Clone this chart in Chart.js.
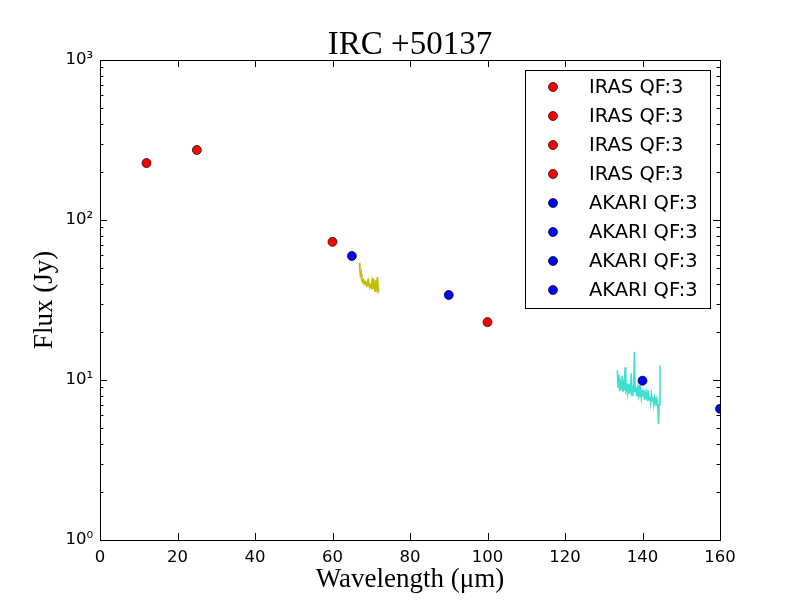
<!DOCTYPE html>
<html>
<head>
<meta charset="utf-8">
<script src="https://cdn.jsdelivr.net/npm/chart.js@4.4.1/dist/chart.umd.min.js"></script>
<style>
  html, body { margin: 0; padding: 0; background: #fff; }
  #wrap { width: 800px; height: 600px; }
</style>
</head>
<body>
<div id="wrap"><canvas id="sed"></canvas></div>
<script>
// photometry points
const irasWave = [12, 25, 60, 100];
const irasFlux = [227, 274, 73, 23];
const akariWave = [65, 90, 140, 160];
const akariFlux = [59.6, 34, 9.9, 6.6];
const irasLabel = 'IRAS QF:3';
const akariLabel = 'AKARI QF:3';

// spectra (yellow ~67-72 um, turquoise ~133-145 um)
const specAWave = [67.0, 67.1, 67.2, 67.3, 67.4, 67.5, 67.6, 67.8, 68.0, 68.2, 68.4, 68.6, 68.8,
  69.0, 69.2, 69.4, 69.6, 69.8, 70.0, 70.2, 70.4, 70.6, 70.8, 71.0, 71.2, 71.4, 71.6, 71.8, 72.0];
const specAFlux = [54, 48, 45, 44, 46, 43, 42, 41, 42, 40, 41, 40, 39,
  41, 39, 40, 38, 39, 38, 41, 37, 43, 38, 36, 42, 37, 44, 36, 37];

const specBWave = [133.5, 133.7, 133.9, 134.1, 134.3, 134.5, 134.7, 134.9, 135.1, 135.3, 135.5, 135.7,
  135.9, 136.1, 136.3, 136.5, 136.7, 136.9, 137.1, 137.3, 137.5, 137.7, 137.9, 138.1, 138.3, 138.5,
  138.7, 138.9, 139.1, 139.3, 139.5, 139.7, 139.9, 140.1, 140.3, 140.5, 140.7, 140.9, 141.1, 141.3,
  141.5, 141.7, 141.9, 142.1, 142.3, 142.5, 142.7, 142.9, 143.1, 143.3, 143.5, 143.7, 143.9, 144.1,
  144.3, 144.5];
const specBFlux = [11.5, 9.0, 10.8, 8.5, 9.6, 8.8, 10.6, 8.4, 9.4, 8.6, 12.0, 8.7,
  9.1, 8.3, 9.5, 8.2, 9.0, 8.6, 11.0, 8.0, 9.2, 8.4, 15.0, 8.5, 9.0, 7.9,
  8.8, 8.1, 9.3, 7.8, 8.6, 7.7, 8.4, 7.9, 8.7, 7.5, 8.2, 7.6, 8.3, 7.4,
  8.6, 7.5, 7.9, 7.2, 8.1, 7.4, 7.8, 7.0, 7.7, 7.2, 7.6, 6.9, 7.3, 5.3,
  7.0, 12.3];

const xTicks = [0, 20, 40, 60, 80, 100, 120, 140, 160];
const yTicks = [1, 10, 100, 1000];
const yTickLabels = ['10\u2070', '10\u00b9', '10\u00b2', '10\u00b3'];

const datasets = [];
irasWave.forEach((w, i) => {
  datasets.push({
    label: irasLabel, data: [{x: w, y: irasFlux[i]}], order: 1,
    pointRadius: 4.5, pointBackgroundColor: '#ff0000', pointBorderColor: '#000', pointBorderWidth: 0.7,
    showLine: false
  });
});
akariWave.forEach((w, i) => {
  datasets.push({
    label: akariLabel, data: [{x: w, y: akariFlux[i]}], order: 1,
    pointRadius: 4.5, pointBackgroundColor: '#0000ff', pointBorderColor: '#000', pointBorderWidth: 0.7,
    showLine: false
  });
});
datasets.push({
  label: 'spec', data: specAWave.map((w, i) => ({x: w, y: specAFlux[i]})), order: 2,
  showLine: true, borderColor: '#bfbf00', borderWidth: 1.8, pointRadius: 0, tension: 0
});
datasets.push({
  label: 'spec', data: specBWave.map((w, i) => ({x: w, y: specBFlux[i]})), order: 2,
  showLine: true, borderColor: '#40e0d0', borderWidth: 1.6, pointRadius: 0, tension: 0
});

// frame, inward ticks, title and legend like the classic matplotlib look
const framePlugin = {
  id: 'frame',
  afterDraw(chart) {
    const {ctx, chartArea: a, scales} = chart;
    const xs = scales.x, ys = scales.y;
    ctx.save();
    ctx.strokeStyle = '#000';
    ctx.lineWidth = 1;
    ctx.beginPath();
    xTicks.forEach(t => {
      const px = Math.round(xs.getPixelForValue(t)) + 0.5;
      ctx.moveTo(px, a.bottom); ctx.lineTo(px, a.bottom - 7);
      ctx.moveTo(px, a.top); ctx.lineTo(px, a.top + 7);
    });
    for (let d = 1; d < 1000; d *= 10) {
      for (let m = 1; m < 10; m++) {
        const v = d * m;
        const py = Math.round(ys.getPixelForValue(v)) + 0.5;
        const len = m === 1 ? 7 : 3.5;
        ctx.moveTo(a.left, py); ctx.lineTo(a.left + len, py);
        ctx.moveTo(a.right, py); ctx.lineTo(a.right - len, py);
      }
    }
    ctx.stroke();
    ctx.strokeRect(Math.round(a.left) + 0.5, Math.round(a.top) + 0.5,
      Math.round(a.right - a.left), Math.round(a.bottom - a.top));

    // title
    ctx.fillStyle = '#000';
    ctx.font = '33px "Liberation Serif"';
    ctx.textAlign = 'center';
    ctx.textBaseline = 'alphabetic';
    ctx.fillText('IRC +50137', (a.left + a.right) / 2, 54);

    // legend
    const entries = chart.data.datasets.filter(ds => ds.label !== 'spec');
    const boxW = 185, rowH = 29;
    const boxH = entries.length * rowH + 6;
    const bx = a.right - 10 - boxW, by = a.top + 10;
    ctx.fillStyle = '#fff';
    ctx.fillRect(bx, by, boxW, boxH);
    ctx.strokeRect(Math.round(bx) + 0.5, Math.round(by) + 0.5, boxW, boxH);
    ctx.font = '19.5px "DejaVu Sans"';
    ctx.textAlign = 'left';
    ctx.textBaseline = 'middle';
    entries.forEach((ds, i) => {
      const cy = by + 17 + i * rowH;
      ctx.beginPath();
      ctx.arc(bx + 28, cy, 4.5, 0, Math.PI * 2);
      ctx.fillStyle = ds.pointBackgroundColor;
      ctx.fill();
      ctx.lineWidth = 0.7;
      ctx.stroke();
      ctx.fillStyle = '#000';
      ctx.fillText(ds.label, bx + 64, cy + 1);
    });
    ctx.restore();
  }
};

new Chart(document.getElementById('sed'), {
  type: 'scatter',
  data: { datasets: datasets },
  options: {
    responsive: true,
    maintainAspectRatio: false,
    animation: false,
    layout: { padding: { top: 60, right: 80, left: 25, bottom: 0 } },
    plugins: { legend: { display: false }, tooltip: { enabled: false } },
    scales: {
      x: {
        type: 'linear', min: 0, max: 160,
        afterBuildTicks: s => { s.ticks = xTicks.map(v => ({value: v})); },
        afterFit: s => { s.height = 60; },
        grid: { display: false, drawTicks: false },
        border: { display: false },
        ticks: { color: '#000', padding: 8, font: { family: 'DejaVu Sans', size: 16.5 }, maxRotation: 0 },
        title: { display: true, text: 'Wavelength (\u03bcm)', color: '#000', padding: { top: 6 },
          font: { family: 'Liberation Serif', size: 27 } }
      },
      y: {
        type: 'logarithmic', min: 1, max: 1000,
        afterBuildTicks: s => { s.ticks = yTicks.map(v => ({value: v})); },
        afterFit: s => { s.width = 75; },
        grid: { display: false, drawTicks: false },
        border: { display: false },
        ticks: { color: '#000', padding: 7, font: { family: 'DejaVu Sans', size: 16.5 },
          callback: v => yTickLabels[yTicks.indexOf(v)] },
        title: { display: true, text: 'Flux (Jy)', color: '#000', padding: { bottom: 4 },
          font: { family: 'Liberation Serif', size: 27 } }
      }
    }
  },
  plugins: [framePlugin]
});
</script>
</body>
</html>
